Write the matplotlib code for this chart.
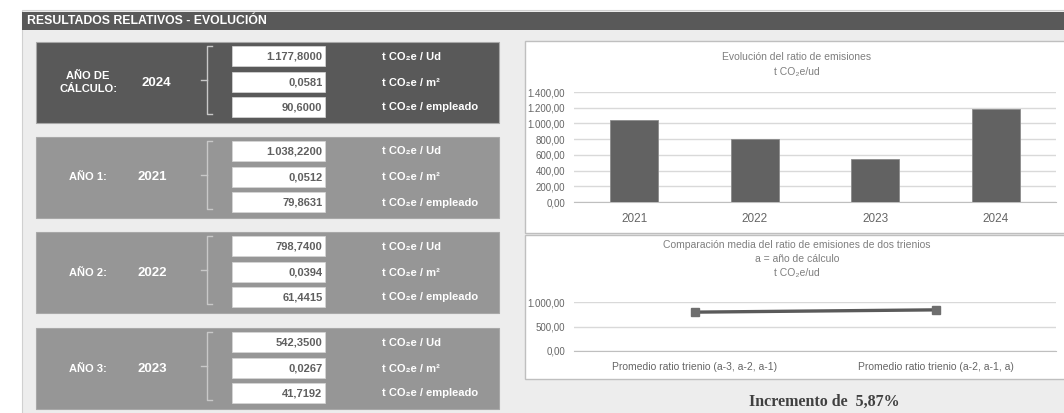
import matplotlib
matplotlib.use('Agg')
import matplotlib.pyplot as plt
from matplotlib.patches import Rectangle
from matplotlib.ticker import FuncFormatter

plt.rcParams['font.family'] = ['Liberation Sans Narrow', 'Liberation Sans', 'DejaVu Sans']

# datos de los cuadros de la izquierda
box_labels = ['AÑO DE\nCÁLCULO:', 'AÑO 1:', 'AÑO 2:', 'AÑO 3:']
box_years = ['2024', '2021', '2022', '2023']
ratio_ud = [1177.8, 1038.22, 798.74, 542.35]
ratio_m2 = [0.0581, 0.0512, 0.0394, 0.0267]
ratio_emp = [90.6, 79.8631, 61.4415, 41.7192]
unit_labels = ['t CO₂e / Ud', 't CO₂e / m²', 't CO₂e / empleado']

# grafico de barras
bar_years = ['2021', '2022', '2023', '2024']
bar_values = [1038.22, 798.74, 542.35, 1177.8]

# grafico de trienios
trienio_labels = ['Promedio ratio trienio (a-3, a-2, a-1)', 'Promedio ratio trienio (a-2, a-1, a)']
trienio_values = [793.10, 839.63]
incremento = '5,87%'

W, H = 1064, 413


def es(v, d):
    # formato numerico espanol: 1.234,56
    s = f"{v:,.{d}f}"
    return s.replace(',', 'X').replace('.', ',').replace('X', '.')


def px_axes(x0, y0, x1, y1):
    return fig.add_axes([x0 / W, 1 - y1 / H, (x1 - x0) / W, (y1 - y0) / H])


fig = plt.figure(figsize=(W / 100, H / 100), dpi=100)
fig.patch.set_facecolor('white')

bg = fig.add_axes([0, 0, 1, 1])
bg.set_xlim(0, W)
bg.set_ylim(H, 0)
bg.axis('off')

# panel y cabecera
bg.add_patch(Rectangle((22, 10), 1050, 410, fc='#ededed', ec='#d0d0d0', lw=0.8))
bg.add_patch(Rectangle((22, 12), 1050, 18, fc='#595959', ec='none'))
bg.text(27, 21.5, 'RESULTADOS RELATIVOS - EVOLUCIÓN', color='white', fontsize=8.8,
        fontweight='bold', va='center', ha='left')

box_tops = [42, 137, 232, 328]
row_offsets = [4, 30, 55]
for i, top in enumerate(box_tops):
    fc = '#595959' if i == 0 else '#969696'
    bg.add_patch(Rectangle((36, top), 463, 81, fc=fc, ec='#a8a8a8', lw=0.8))
    mid = top + 40.5
    bg.text(88, mid, box_labels[i], color='white', fontsize=8, fontweight='bold',
            ha='center', va='center', linespacing=1.4)
    bg.text(156 if i == 0 else 152, mid, box_years[i], color='white', fontsize=9.5,
            fontweight='bold', ha='center', va='center')
    # llave
    bg.plot([212, 207, 207, 212], [top + 4, top + 4, top + 72, top + 72], color='#c8c8c8', lw=1)
    bg.plot([201, 207], [top + 38, top + 38], color='#c8c8c8', lw=1)
    vals = [ratio_ud[i], ratio_m2[i], ratio_emp[i]]
    for j, v in enumerate(vals):
        y0 = top + row_offsets[j]
        bg.add_patch(Rectangle((232, y0), 93, 20, fc='white', ec='#d8d8d8', lw=0.5))
        bg.text(322.5, y0 + 10.5, es(v, 4), color='#5f5f5f', fontsize=8, fontweight='bold',
                ha='right', va='center')
        bg.text(382, y0 + 10.5, unit_labels[j], color='white', fontsize=8, fontweight='bold',
                ha='left', va='center')

# marcos de los graficos
bg.add_patch(Rectangle((525, 40.5), 560, 192, fc='white', ec='#bfbfbf', lw=1))
bg.add_patch(Rectangle((525, 235), 560, 144, fc='white', ec='#bfbfbf', lw=1))

title_color = '#7f7f7f'
bg.text(797, 57, 'Evolución del ratio de emisiones', color=title_color, fontsize=7.5,
        ha='center', va='center')
bg.text(797, 72, 't CO₂e/ud', color=title_color, fontsize=7.5, ha='center', va='center')

bg.text(797, 245, 'Comparación media del ratio de emisiones de dos trienios', color=title_color,
        fontsize=7.5, ha='center', va='center')
bg.text(797, 258.5, 'a = año de cálculo', color=title_color, fontsize=7.5, ha='center', va='center')
bg.text(797, 273, 't CO₂e/ud', color=title_color, fontsize=7.5, ha='center', va='center')

bg.text(824, 402, 'Incremento de  ' + incremento, color='#404040', fontsize=11.5,
        fontweight='bold', family=['Liberation Serif', 'DejaVu Serif'], ha='center', va='center')

fmt = FuncFormatter(lambda v, p: es(v, 2))
tick_color = '#666666'

# grafico 1: barras
ax1 = px_axes(574, 92, 1056, 202)
ax1.set_facecolor('none')
ax1.bar(range(len(bar_years)), bar_values, width=0.4, color='#626262', edgecolor='#8c8c8c',
        lw=0.6, zorder=3)
ax1.set_xlim(-0.5, len(bar_years) - 0.5)
ax1.set_ylim(0, 1400)
ax1.set_yticks(range(0, 1401, 200))
ax1.yaxis.set_major_formatter(fmt)
ax1.set_xticks(range(len(bar_years)))
ax1.set_xticklabels(bar_years)
ax1.grid(axis='y', color='#d9d9d9', lw=1, zorder=0)
for s in ['top', 'right', 'left']:
    ax1.spines[s].set_visible(False)
ax1.spines['bottom'].set_color('#bfbfbf')
ax1.tick_params(axis='y', length=0, labelsize=7, colors=tick_color, pad=6.5)
ax1.tick_params(axis='x', length=0, labelsize=8.5, colors=tick_color, pad=8)

# grafico 2: linea de trienios
ax2 = px_axes(574, 302, 1056, 351)
ax2.set_facecolor('none')
ax2.plot(range(len(trienio_values)), trienio_values, color='#5a5a5a', lw=2.4, marker='s',
         ms=5.5, mfc='#6e6e6e', mec='#6e6e6e', zorder=3)
ax2.set_xlim(-0.5, len(trienio_values) - 0.5)
ax2.set_ylim(0, 1000)
ax2.set_yticks([0, 500, 1000])
ax2.yaxis.set_major_formatter(fmt)
ax2.set_xticks(range(len(trienio_labels)))
ax2.set_xticklabels(trienio_labels)
ax2.grid(axis='y', color='#d9d9d9', lw=1, zorder=0)
for s in ['top', 'right', 'left']:
    ax2.spines[s].set_visible(False)
ax2.spines['bottom'].set_color('#bfbfbf')
ax2.tick_params(axis='y', length=0, labelsize=7, colors=tick_color, pad=6.5)
ax2.tick_params(axis='x', length=0, labelsize=7.5, colors=tick_color, pad=8)

fig.savefig('out.png', dpi=100, facecolor='white')
